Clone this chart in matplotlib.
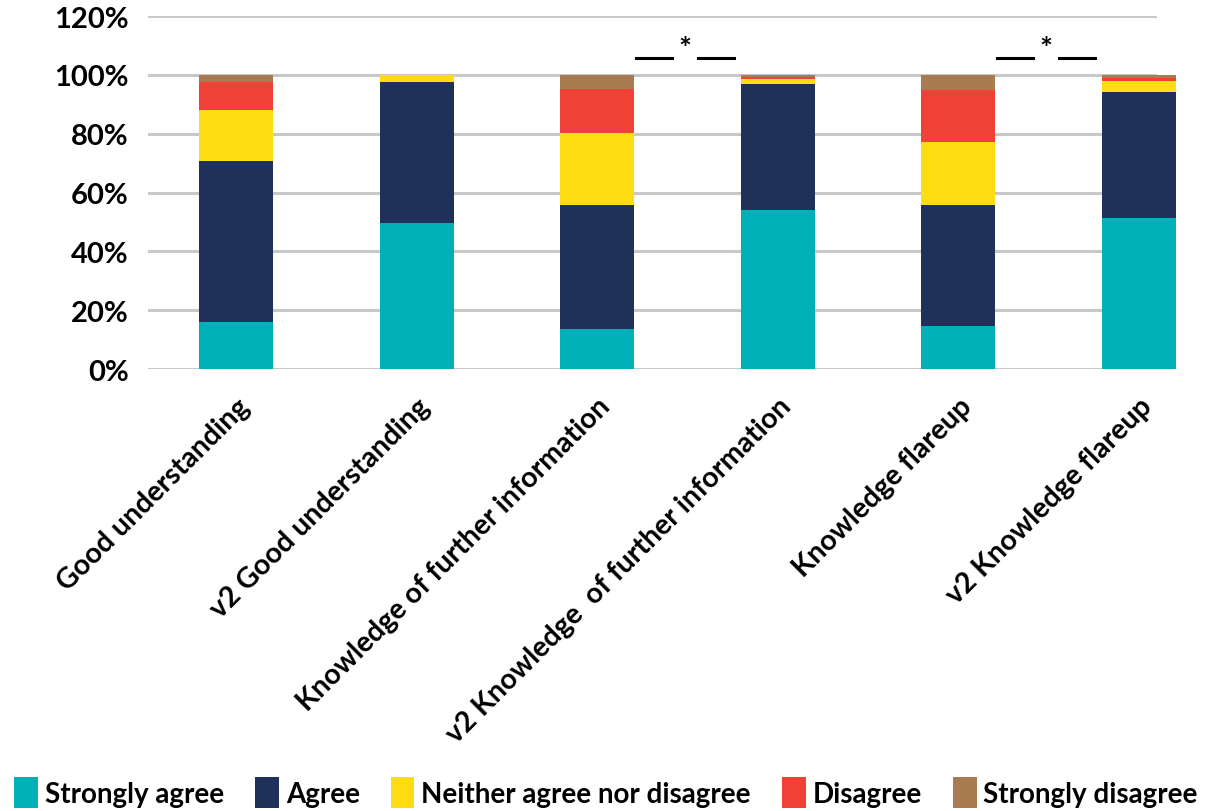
import matplotlib.pyplot as plt
import numpy as np

categories = ["Good understanding", "v2 Good understanding",
              "Knowledge of further information", "v2 Knowledge  of further information",
              "Knowledge flareup", "v2 Knowledge flareup"]
levels = ["Strongly agree", "Agree", "Neither agree nor disagree", "Disagree", "Strongly disagree"]

strongly_agree = [15.9, 49.8, 13.6, 53.9, 14.6, 51.2]
agree = [54.9, 47.8, 42.3, 43.1, 41.0, 43.0]
neither = [17.3, 2.4, 24.4, 1.6, 21.7, 3.8]
disagree = [9.5, 0.0, 15.0, 0.7, 17.6, 1.0]
strongly_disagree = [2.4, 0.0, 4.7, 0.7, 5.1, 1.0]

# significant pairs (indices of compared bars)
sig_pairs = [(2, 3), (4, 5)]

colors = ["#00B0B9", "#1F3158", "#FEDC14", "#EF4135", "#A87B50"]

plt.rcParams['font.family'] = ['Lato', 'DejaVu Sans']

fig = plt.figure(figsize=(12.22, 8.12), dpi=100)
ax = fig.add_axes([0.1211, 0.5443, 0.8257, 0.4347])

x = np.arange(len(categories))
series = [strongly_agree, agree, neither, disagree, strongly_disagree]
bottom = np.zeros(len(categories))
for vals, col, lab in zip(series, colors, levels):
    ax.bar(x, vals, width=0.41, bottom=bottom, color=col, label=lab, zorder=3, clip_on=False)
    bottom += np.array(vals)

ax.set_ylim(0, 120)
ax.set_xlim(-0.487, 5.10)
ax.set_yticks(np.arange(0, 121, 20))
ax.set_yticklabels([f"{v}%" for v in range(0, 121, 20)])
ax.grid(axis='y', color='#c8c8c8', linewidth=2.2, zorder=0)
ax.tick_params(axis='both', length=0)
ax.tick_params(axis='y', labelsize=21, pad=14)
for lbl in ax.get_yticklabels():
    lbl.set_fontweight('bold')
for s in ax.spines.values():
    s.set_visible(False)

ax.set_xticks(x)
ax.set_xticklabels(categories, rotation=45, ha='right', rotation_mode='anchor',
                   fontsize=20.5, fontweight='bold')
ax.tick_params(axis='x', pad=17)

for a, b in sig_pairs:
    mid = (a + b) / 2
    ax.plot([mid - 0.285, mid - 0.086], [105.8, 105.8], color='black', lw=2.2, clip_on=False)
    ax.plot([mid + 0.058, mid + 0.257], [105.8, 105.8], color='black', lw=2.2, clip_on=False)
    ax.text(mid - 0.014, 108.8, "*", ha='center', va='center', fontsize=22, fontweight='bold')

handles, labels = ax.get_legend_handles_labels()
leg = fig.legend(handles, labels, loc='lower center', bbox_to_anchor=(0.496, -0.027), ncol=5,
                 frameon=False, fontsize=20, handlelength=0.85, handleheight=1.35,
                 handletextpad=0.25, columnspacing=1.12)
for t in leg.get_texts():
    t.set_fontweight('bold')

fig.savefig("out.png", dpi=100)
